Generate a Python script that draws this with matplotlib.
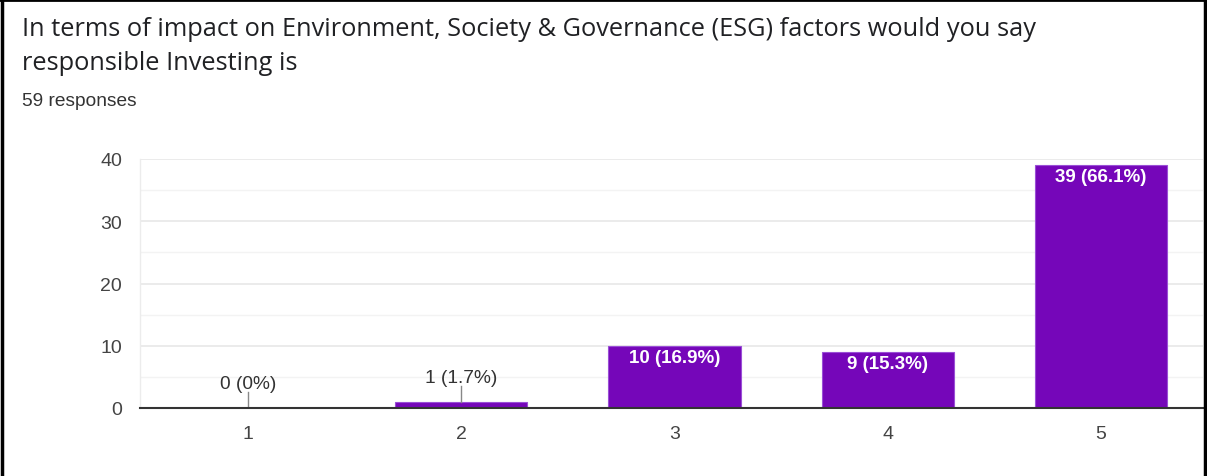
import matplotlib.pyplot as plt
from matplotlib.lines import Line2D

plt.rcParams['font.family'] = ['Liberation Sans', 'DejaVu Sans']

# data
categories = [1, 2, 3, 4, 5]
counts = [0, 1, 10, 9, 39]
pct_labels = ['0 (0%)', '1 (1.7%)', '10 (16.9%)', '9 (15.3%)', '39 (66.1%)']

title_lines = ["In terms of impact on Environment, Society & Governance (ESG) factors would you say",
               "responsible Investing is"]
subtitle = "59 responses"

bar_color = '#7506b9'

fig = plt.figure(figsize=(12.07, 4.77), dpi=100)
ax = fig.add_axes([140 / 1207, 68 / 477, 1063 / 1207, 249 / 477])

ax.bar(categories, counts, width=0.62, color=bar_color, edgecolor='#9a4fd6', linewidth=0.8, zorder=3)

ax.set_xlim(0.494, 5.478)
ax.set_ylim(0, 40)
ax.set_yticks([0, 10, 20, 30, 40])
ax.set_yticks([5, 15, 25, 35], minor=True)
ax.set_xticks(categories)
ax.set_xticklabels([str(c) for c in categories])

ax.grid(axis='y', which='major', color='#e8e8e8', linewidth=1.2, zorder=0)
ax.grid(axis='y', which='minor', color='#f3f3f3', linewidth=1.0, zorder=0)
ax.tick_params(axis='both', which='both', length=0, labelsize=14, colors='#444444')
ax.tick_params(axis='y', pad=13)
ax.tick_params(axis='x', pad=12)

for s in ['top', 'right']:
    ax.spines[s].set_visible(False)
ax.spines['left'].set_color('#ececec')
ax.spines['left'].set_linewidth(1.0)
ax.spines['bottom'].set_color('#333333')
ax.spines['bottom'].set_linewidth(1.5)
ax.spines['bottom'].set_zorder(4)

# value labels
for x, v, lab in zip(categories, counts, pct_labels):
    if v < 5:
        ax.plot([x, x], [v, v + 2.5], color='#888888', linewidth=1.0, zorder=4)
        ax.text(x, v + 2.6, lab, ha='center', va='bottom', fontsize=13.8, color='#333333')
    else:
        ax.text(x, v - 0.5, lab, ha='center', va='top', fontsize=13.5, color='white',
                fontweight='bold', zorder=5)

fig.text(22 / 1207, 1 - 29 / 477, title_lines[0], ha='left', va='center', fontsize=18.3,
         color='#202124', family=['Open Sans', 'DejaVu Sans'])
fig.text(22 / 1207, 1 - 64 / 477, title_lines[1], ha='left', va='center', fontsize=18.3,
         color='#202124', family=['Open Sans', 'DejaVu Sans'])
fig.text(22 / 1207, 1 - 101 / 477, subtitle, ha='left', va='center', fontsize=13.8, color='#333333')

# black frame on left, top, right
fig.add_artist(Line2D([1.5 / 1207, 1.5 / 1207], [0, 1], color='black', linewidth=2.5,
                      transform=fig.transFigure))
fig.add_artist(Line2D([0, 1], [1 - 1 / 477, 1 - 1 / 477], color='black', linewidth=2,
                      transform=fig.transFigure))
fig.add_artist(Line2D([1204.5 / 1207, 1204.5 / 1207], [0, 1], color='black', linewidth=2.5,
                      transform=fig.transFigure))

plt.savefig('out.png', dpi=100)
